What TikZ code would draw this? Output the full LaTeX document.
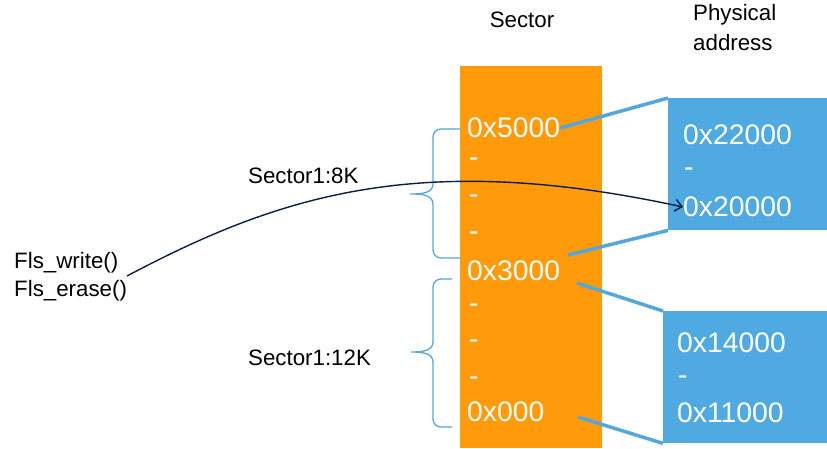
\documentclass[tikz,border=0pt]{standalone}
\usepackage{fontspec}
\setmainfont{Liberation Sans}
\usetikzlibrary{arrows.meta}
\definecolor{sectorOrange}{HTML}{FF9A0A}
\definecolor{physBlue}{HTML}{4FAAE1}
\definecolor{lineBlue}{HTML}{52A8DE}
\definecolor{arrowNavy}{HTML}{0C1D45}
\tikzset{
  blacktxt/.style={inner sep=0pt, anchor=west, font=\fontsize{22.3}{26}\selectfont, text=black},
  whitetxt/.style={inner sep=0pt, anchor=west, font=\fontsize{28.3}{32}\selectfont, text=white},
  physbox/.style={fill=physBlue, draw=none, anchor=north west, inner sep=0pt},
  mapline/.style={draw=lineBlue, line width=3.5pt},
  bracepath/.style={draw=lineBlue, line width=1.3pt},
}
\begin{document}
\begin{tikzpicture}[x=1pt,y=-1pt]
\useasboundingbox (0,0) rectangle (827,448);
% sector column
\node[fill=sectorOrange, anchor=north west, inner sep=0pt, minimum width=142pt, minimum height=382pt] (col) at (460,66) {};
% physical boxes
\node[physbox, minimum width=159pt, minimum height=132pt] (box1) at (668,98) {};
\node[physbox, minimum width=164pt, minimum height=132pt] (box2) at (663,311) {};
% headers
\node[blacktxt, anchor=center] (hsector) at (522,20) {Sector};
\node[blacktxt] (hphys1) at (693,15) {Physical};
\node[blacktxt] (hphys2) at (693,43) {address};
% sector texts
\node[whitetxt] (s5000) at (467,128) {0x5000};
\node[whitetxt] (d1) at (469,162) {-};
\node[whitetxt] (d2) at (469,199) {-};
\node[whitetxt] (d3) at (469,236) {-};
\node[whitetxt] (s3000) at (467,271) {0x3000};
\node[whitetxt] (d4) at (469,308) {-};
\node[whitetxt] (d5) at (469,344) {-};
\node[whitetxt] (d6) at (469,381) {-};
\node[whitetxt] (s0) at (467,412) {0x000};
% physical texts
\node[whitetxt] (p22) at (683,135) {0x22000};
\node[whitetxt] (pd1) at (684,172) {-};
\node[whitetxt] (p20) at (683,207) {0x20000};
\node[whitetxt] (p14) at (677,343) {0x14000};
\node[whitetxt] (pd2) at (678,380) {-};
\node[whitetxt] (p11) at (677,413) {0x11000};
% left labels
\node[blacktxt] (lbl8) at (248,176) {Sector1:8K};
\node[blacktxt] (lbl12) at (248,358) {Sector1:12K};
\node[blacktxt, align=left, anchor=north west, font=\fontsize{22.3}{28}\selectfont] (fls) at (14,252) {Fls\_write()\\Fls\_erase()};
% mapping lines
\coordinate (m2) at (568,255);
\coordinate (m3) at (577,283);
\coordinate (m4) at (578,417);
\draw[mapline] (s5000.east) -- (box1.north west);
\draw[mapline] (m2) -- (box1.south west);
\draw[mapline] (m3) -- (box2.north west);
\draw[mapline] (m4) -- (box2.south west);
% braces
\draw[bracepath] (460,129) -- (441,129) to[out=180,in=90] (433,137) -- (433,184) to[out=-90,in=0] (410,194)
  to[out=0,in=90] (433,204) -- (433,250) to[out=-90,in=180] (441,258) -- (460,258);
\draw[bracepath] (452,279) -- (441,279) to[out=180,in=90] (433,287) -- (433,342) to[out=-90,in=0] (411,352)
  to[out=0,in=90] (433,362) -- (433,419) to[out=-90,in=180] (441,427) -- (452,427);
% arrow
\coordinate (astart) at (127,276);
\draw[arrowNavy, line width=1.4pt, -{Straight Barb[length=7pt,width=12pt]}] (astart) .. controls (280,195) and (420,150) .. (p20.west);
\end{tikzpicture}
\end{document}
